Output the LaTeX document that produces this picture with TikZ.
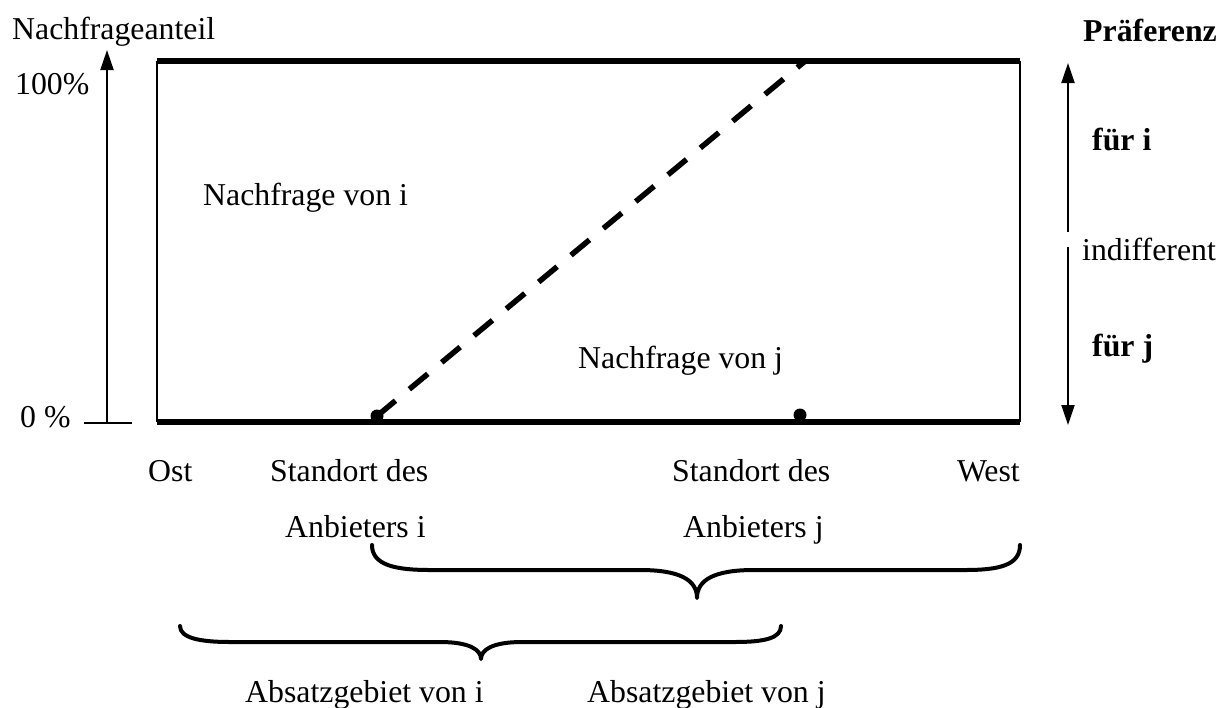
\documentclass[tikz,border=0pt]{standalone}
\usepackage{fontspec}
\setmainfont{Liberation Serif}
\usetikzlibrary{arrows.meta}
\begin{document}
\begin{tikzpicture}[x=1pt,y=-1pt, font=\fontsize{31.8}{38}\selectfont,
  txt/.style={inner sep=0pt, anchor=base west},
  txte/.style={inner sep=0pt, anchor=base east},
  boldtxt/.style={txt, font=\fontsize{31.8}{38}\selectfont\bfseries},
  thickline/.style={line width=5.5pt},
  thinline/.style={line width=2pt},
  bracestyle/.style={line width=4pt, line cap=round, line join=round},
  arr/.style={line width=2pt, -{Triangle[length=20pt,width=13pt]}},
  dashline/.style={line width=5.5pt, dash pattern=on 24pt off 18pt},
  dotstyle/.style={circle, fill=black, inner sep=0pt, minimum size=13pt}]
\useasboundingbox (0,0) rectangle (1222,707);
% frame
\coordinate (tl) at (157,61);
\coordinate (tr) at (1020,61);
\coordinate (bl) at (157,422);
\coordinate (br) at (1020,422);
\draw[thinline] (tl) -- (bl);
\draw[thinline] (tr) -- (br);
\draw[thickline] (tl) -- (tr);
\draw[thickline] (bl) -- (br);
% left axis
\coordinate (ya) at (107,423);
\coordinate (yb) at (107,50);
\coordinate (t1) at (84,423);
\coordinate (t2) at (132,423);
\draw[arr] (ya) -- (yb);
\draw[thinline] (t1) -- (t2);
% right preference arrows
\coordinate (pa) at (1068,232);
\coordinate (pb) at (1068,63);
\coordinate (pc) at (1068,247);
\coordinate (pd) at (1068,425);
\draw[arr] (pa) -- (pb);
\draw[arr] (pc) -- (pd);
% dots and dashed line
\node[dotstyle] (di) at (377,416) {};
\node[dotstyle] (dj) at (800,415) {};
\coordinate (dtop) at (804,62);
\draw[dashline] (di.center) -- (dtop);
% texts
\node[txt] (na) at (12,39) {Nachfrageanteil};
\node[txt] (h100) at (15,94) {100\%};
\node[txt] (h0) at (20,427) {0 \%};
\node[inner sep=0pt, anchor=base east, font=\fontsize{31.8}{38}\selectfont\bfseries] (pref) at (1217,41) {Präferenz};
\node[boldtxt] (fi) at (1092,150) {für i};
\node[txt] (ind) at (1082,260) {indifferent};
\node[boldtxt] (fj) at (1092,356) {für j};
\node[txt] (nvi) at (203,205) {Nachfrage von i};
\node[txt] (nvj) at (578,368) {Nachfrage von j};
\node[txt] (ost) at (148,481) {Ost};
\node[txt] (sdi) at (270,481) {Standort des};
\node[txt] (abi) at (285,537) {Anbieters i};
\node[txt] (sdj) at (672,481) {Standort des};
\node[txt] (abj) at (683,537) {Anbieters j};
\node[txte] (west) at (1020,481) {West};
\node[txt] (agi) at (245,702) {Absatzgebiet von i};
\node[txt] (agj) at (587,702) {Absatzgebiet von j};
% braces
\draw[bracestyle] (372,545) .. controls (372,565) and (395,570) .. (430,570) -- (640,570)
  .. controls (680,570) and (697,580) .. (697,598)
  .. controls (697,580) and (714,570) .. (754,570) -- (965,570)
  .. controls (1000,570) and (1020,565) .. (1020,545);
\draw[bracestyle] (180,626) .. controls (180,638) and (200,642) .. (230,642) -- (440,642)
  .. controls (470,642) and (481,650) .. (481,659)
  .. controls (481,650) and (492,642) .. (522,642) -- (735,642)
  .. controls (765,642) and (781,638) .. (781,626);
\end{tikzpicture}
\end{document}
